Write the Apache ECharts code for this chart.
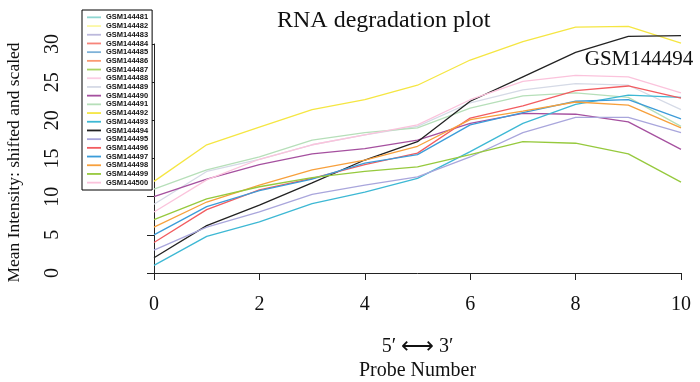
<!DOCTYPE html>
<html>
<head>
<meta charset="utf-8">
<script src="https://cdn.jsdelivr.net/npm/echarts@6/dist/echarts.min.js"></script>
<style>
  html, body { margin: 0; padding: 0; background: #fff; }
  #chart { width: 700px; height: 382px; }
</style>
</head>
<body>
<div id="chart"></div>
<script>
// probe positions 0..10
const probes = [0, 1, 2, 3, 4, 5, 6, 7, 8, 9, 10];
const xTicks = [0, 2, 4, 6, 8, 10];
const yTicks = [0, 5, 10, 15, 20, 25, 30];

const sampleNames = [
  'GSM144481', 'GSM144482', 'GSM144483', 'GSM144484', 'GSM144485',
  'GSM144486', 'GSM144487', 'GSM144488', 'GSM144489', 'GSM144490',
  'GSM144491', 'GSM144492', 'GSM144493', 'GSM144494', 'GSM144495',
  'GSM144496', 'GSM144497', 'GSM144498', 'GSM144499', 'GSM144500'
];

const sampleColors = [
  '#8fd6d1', '#fbf7a4', '#bcb9dc', '#f7847a', '#7fb2d8',
  '#fb9a73', '#a9d465', '#fbcde3', '#d5dae6', '#a5509f',
  '#b6dfb9', '#f5e642', '#3db8d4', '#222222', '#a9a6dc',
  '#f25c60', '#3b9cd9', '#f7a03c', '#96c93d', '#fbc3dc'
];

// shifted & scaled mean intensities (samples 1-8 are not visible in the plot)
const gsm144489 = [9.0, 13.3, 14.9, 16.8, 18.1, 19.2, 22.3, 24.0, 24.8, 24.6, 21.4];
const gsm144490 = [10.0, 12.3, 14.2, 15.6, 16.3, 17.4, 19.6, 20.9, 20.8, 19.8, 16.2];
const gsm144491 = [11.0, 13.5, 15.2, 17.4, 18.4, 19.0, 21.6, 23.2, 23.6, 23.0, 19.2];
const gsm144492 = [12.0, 16.8, 19.1, 21.4, 22.7, 24.6, 27.9, 30.3, 32.2, 32.3, 30.1];
const gsm144493 = [1.0, 4.8, 6.7, 9.1, 10.6, 12.4, 15.9, 19.6, 22.1, 23.3, 23.0];
const gsm144494 = [2.0, 6.2, 8.9, 11.8, 14.8, 17.2, 22.5, 25.7, 28.9, 31.0, 31.1];
const gsm144495 = [3.0, 6.0, 8.0, 10.3, 11.5, 12.6, 15.2, 18.4, 20.4, 20.4, 18.4];
const gsm144496 = [4.0, 8.3, 10.9, 12.4, 14.2, 15.7, 20.3, 21.9, 23.9, 24.5, 22.9];
const gsm144497 = [5.0, 8.7, 10.8, 12.3, 14.4, 15.5, 19.4, 21.0, 22.5, 22.7, 20.2];
const gsm144498 = [6.0, 9.3, 11.5, 13.5, 14.8, 16.6, 20.1, 21.2, 22.4, 22.0, 19.0];
const gsm144499 = [7.0, 9.7, 11.3, 12.5, 13.3, 13.9, 15.5, 17.2, 17.0, 15.6, 11.9];
const gsm144500 = [8.0, 12.2, 14.9, 16.8, 18.1, 19.4, 22.7, 25.1, 25.9, 25.7, 23.6];

const sampleValues = {
  GSM144489: gsm144489, GSM144490: gsm144490, GSM144491: gsm144491,
  GSM144492: gsm144492, GSM144493: gsm144493, GSM144494: gsm144494,
  GSM144495: gsm144495, GSM144496: gsm144496, GSM144497: gsm144497,
  GSM144498: gsm144498, GSM144499: gsm144499, GSM144500: gsm144500
};
const labelledSample = 'GSM144494';

const serif = '"Liberation Serif", "DejaVu Serif", serif';

const chart = echarts.init(document.getElementById('chart'));

const series = sampleNames.map((name, i) => {
  const vals = sampleValues[name] || [];
  const s = {
    name: name,
    type: 'line',
    data: vals.map((v, k) => [probes[k], v]),
    symbol: 'none',
    clip: false,
    silent: true,
    color: sampleColors[i],
    lineStyle: { width: 1.3, color: sampleColors[i] },
    emphasis: { disabled: true }
  };
  if (name === labelledSample) {
    // text sits just under the end of the line, like the R text() call
    s.endLabel = {
      show: true,
      formatter: name,
      distance: 0,
      align: 'center',
      offset: [-42, 24],
      fontFamily: serif,
      fontSize: 21,
      color: '#111'
    };
  }
  return s;
});

const option = {
  backgroundColor: '#fff',
  animation: false,
  title: {
    text: 'RNA degradation plot',
    left: 272,
    top: 4,
    textStyle: { fontFamily: serif, fontSize: 24, fontWeight: 'normal', color: '#111' }
  },
  legend: {
    data: sampleNames,
    orient: 'vertical',
    left: 82,
    top: 10,
    padding: [3, 4, 3, 5],
    itemWidth: 14,
    itemHeight: 8.7,
    itemGap: 0,
    icon: 'path://M0,0H14V1.8H0Z',
    symbolKeepAspect: true,
    selectedMode: false,
    borderColor: '#000',
    borderWidth: 1,
    backgroundColor: '#fff',
    textStyle: {
      fontFamily: '"Liberation Sans", Arial, sans-serif',
      fontSize: 7.5,
      fontWeight: 'bold',
      lineHeight: 8.7,
      color: '#111'
    }
  },
  grid: { left: 154, right: 19, top: 44, bottom: 109, outerBoundsMode: 'none' },
  xAxis: {
    type: 'value',
    min: xTicks[0],
    max: xTicks[xTicks.length - 1],
    interval: xTicks[1] - xTicks[0],
    offset: 10,
    axisLine: { lineStyle: { color: '#222', width: 1 } },
    axisTick: { length: 7, lineStyle: { color: '#222' } },
    splitLine: { show: false },
    axisLabel: { fontFamily: serif, fontSize: 20, color: '#111', margin: 12 },
    name: '{a|5′ }{b|⟷}{a| 3′}\n{a|Probe Number}',
    nameLocation: 'middle',
    nameGap: 52,
    nameTextStyle: {
      rich: {
        a: { fontFamily: serif, fontSize: 20, color: '#111', lineHeight: 24 },
        b: { fontFamily: '"DejaVu Sans", sans-serif', fontSize: 23, color: '#111', lineHeight: 24 }
      }
    }
  },
  yAxis: {
    type: 'value',
    min: yTicks[0],
    max: yTicks[yTicks.length - 1],
    interval: yTicks[1] - yTicks[0],
    offset: 79,
    axisLine: { show: true, lineStyle: { color: '#222', width: 1 } },
    axisTick: { show: true, length: 7, lineStyle: { color: '#222' } },
    splitLine: { show: false },
    axisLabel: { fontFamily: serif, fontSize: 20, color: '#111', rotate: 90, margin: 12 },
    name: 'Mean Intensity: shifted and scaled',
    nameLocation: 'middle',
    nameGap: 52,
    nameTextStyle: { fontFamily: serif, fontSize: 17.5, color: '#111', padding: [0, 8, 0, 0] }
  },
  series: series
};

chart.setOption(option);
</script>
</body>
</html>
